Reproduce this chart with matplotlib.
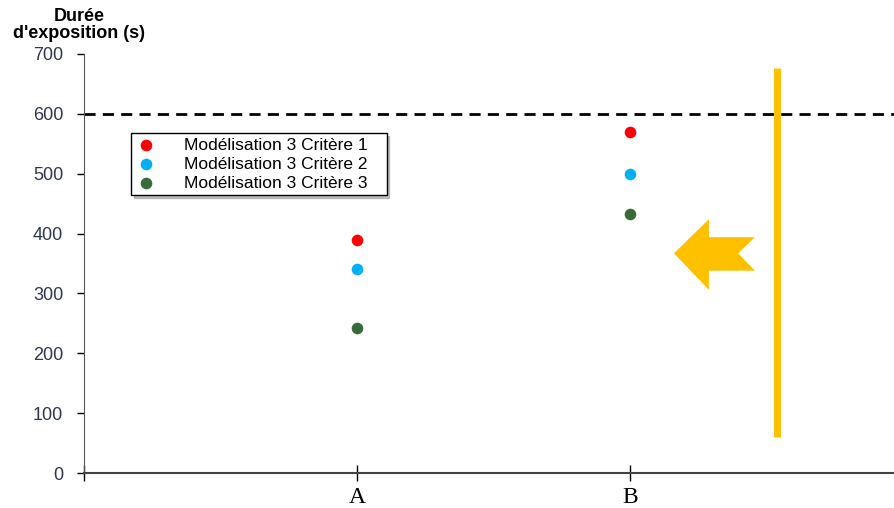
import numpy as np
import matplotlib.pyplot as plt
from matplotlib.patches import Polygon

# --- données ---
categories = ["A", "B"]
cat_pos = [1, 2]
critere_1 = [390, 570]
critere_2 = [340, 500]
critere_3 = [242, 432]
series_labels = ["Modélisation 3 Critère 1", "Modélisation 3 Critère 2", "Modélisation 3 Critère 3"]
y_ticks = [0, 100, 200, 300, 400, 500, 600, 700]
seuil = 600

# --- annotations (barre jaune + flèche) ---
barre_x = 2.54
barre_y = (60, 676)
fleche = [(2.161, 367), (2.289, 424), (2.289, 394), (2.458, 394), (2.396, 367),
          (2.458, 338), (2.289, 338), (2.289, 306)]

fig = plt.figure(figsize=(8.95, 5.08), dpi=100)
ax = fig.add_axes([84 / 895, 35 / 508, 1 - 84 / 895, 419 / 508])

colors = ["#FF0000", "#00B0F0", "#386B38"]
for vals, c, lab in zip([critere_1, critere_2, critere_3], colors, series_labels):
    ax.scatter(cat_pos, vals, s=70, color=c, label=lab + "   ", zorder=3, linewidths=0)

ax.axhline(seuil, color="black", linestyle=(0, (4, 2.6)), linewidth=2, zorder=2)
ax.plot([barre_x, barre_x], barre_y, color="#FFC000", linewidth=5, solid_capstyle="butt")
ax.add_patch(Polygon(fleche, closed=True, facecolor="#FFC000", edgecolor="none"))

ax.set_xlim(0, 811 / 273)
ax.set_ylim(0, 700)
ax.set_yticks(y_ticks)
ax.set_yticklabels([str(v) for v in y_ticks], fontsize=13, color="#2E3650",
                   family="Liberation Sans")
ax.set_xticks([0] + cat_pos)
ax.set_xticklabels([""] + categories, fontsize=17, family="Liberation Serif",
                   fontstretch="condensed")
ax.tick_params(axis="x", direction="inout", length=12, width=1, pad=4)
ax.tick_params(axis="y", direction="out", length=5, width=1, pad=10)

for s in ["top", "right"]:
    ax.spines[s].set_visible(False)
ax.spines["left"].set_color("#555555")
ax.spines["bottom"].set_color("#444444")
ax.spines["bottom"].set_linewidth(1.5)

fig.text(79 / 895, 1 - 25 / 508, "Durée\nd'exposition (s)", ha="center", va="center",
         fontsize=13, fontweight="bold", family="Liberation Sans", linespacing=1.05)

leg = ax.legend(loc="upper left", bbox_to_anchor=(0.058, 0.8115), frameon=True,
                shadow={"ox": 2, "oy": -2, "color": "#999999", "alpha": 0.6},
                fancybox=False, prop={"family": "Liberation Sans", "size": 12.5},
                handletextpad=1.58, labelspacing=0.22, borderpad=0.26, handlelength=1.2,
                borderaxespad=0)
leg.get_frame().set_edgecolor("black")
leg.get_frame().set_linewidth(1)

fig.savefig("out.png", dpi=100)
